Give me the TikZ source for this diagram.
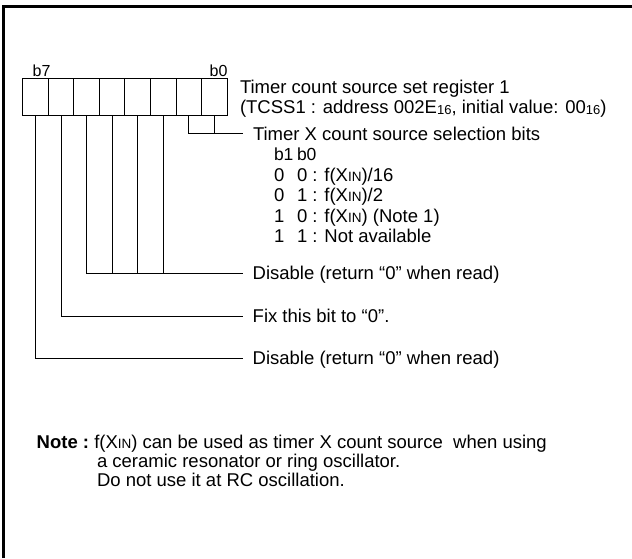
\documentclass[tikz,border=0pt]{standalone}
\usepackage{fontspec}
\setmainfont{Liberation Sans}
\newcommand\xin{X{\fontsize{13.5}{14}\selectfont IN}}
\newcommand\sixteen{\raisebox{-1pt}{\fontsize{13}{14}\selectfont 16}}
\begin{document}
\begin{tikzpicture}[x=1pt,y=-1pt,
  every node/.style={inner sep=0pt, outer sep=0pt},
  txt/.style={anchor=base west, font=\fontsize{18.5}{20}\selectfont},
  bitlbl/.style={font=\fontsize{16}{16}\selectfont},
  hdr/.style={anchor=base west, font=\fontsize{17.5}{18}\selectfont},
  cellbox/.style={draw, line width=0.8pt, minimum width=25.55pt, minimum height=37pt},
  conn/.style={line width=0.8pt}]
\useasboundingbox (0,0) rectangle (632,558);
\draw[line width=2.5pt] (3.5,558) -- (3.5,6.5) -- (632,6.5);
% register cells, cell7 leftmost
\foreach \i in {0,...,7} {
  \node[cellbox] (cell\i) at ({227 - 25.55*(\i+0.5)}, 96.5) {};
}
\node[bitlbl, anchor=base west] (lb7) at (32.7,76) {b7};
\node[bitlbl, anchor=base east] (lb0) at (227.5,76) {b0};
% line ends
\coordinate (e10) at (243,133.7);
\coordinate (e52) at (243,273.3);
\coordinate (e6) at (243,316);
\coordinate (e7) at (243,358.3);
\draw[conn] (cell1.south) |- (e10);
\draw[conn] (cell0.south) -- (cell0.south |- e10);
\draw[conn] (cell5.south) |- (e52);
\foreach \i in {4,3,2} { \draw[conn] (cell\i.south) -- (cell\i.south |- e52); }
\draw[conn] (cell6.south) |- (e6);
\draw[conn] (cell7.south) |- (e7);
% texts
\node[txt] (t1) at (240,93.5) {Timer count source set register 1};
\node[txt] (t2) at (240,113.3) {(TCSS1 : address 002E\sixteen, initial value: 00\sixteen)};
\node[txt] (tx) at (253,140.5) {Timer X count source selection bits};
\node[hdr] (hb1) at (274,160.9) {b1};
\node[hdr] (hb0) at (297,160.9) {b0};
\node[txt] (r1a) at (274,181.3) {0};
\node[txt] (r1b) at (297,181.3) {0 : f(\xin)/16};
\node[txt] (r2a) at (274,201.7) {0};
\node[txt] (r2b) at (297,201.7) {1 : f(\xin)/2};
\node[txt] (r3a) at (274,222.1) {1};
\node[txt] (r3b) at (297,222.1) {0 : f(\xin) (Note 1)};
\node[txt] (r4a) at (274,242.5) {1};
\node[txt] (r4b) at (297,242.5) {1 : Not available};
\node[txt] (d1) at (252.7,279.8) {Disable (return “0” when read)};
\node[txt] (fx) at (252.7,322.5) {Fix this bit to “0”.};
\node[txt] (d2) at (252.7,364.8) {Disable (return “0” when read)};
\node[txt] (n0) at (36.7,448) {\textbf{Note :}};
\node[txt] (n1) at (n0.base east) {\ f(\xin) can be used as timer X count source \ when using};
\node[txt] (n2) at (97,467) {a ceramic resonator or ring oscillator.};
\node[txt] (n3) at (97,486) {Do not use it at RC oscillation.};
\end{tikzpicture}
\end{document}
